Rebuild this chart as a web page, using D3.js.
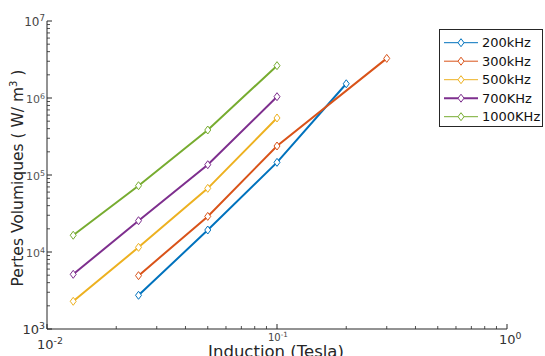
<!DOCTYPE html>
<html><head><meta charset="utf-8">
<script src="https://cdn.jsdelivr.net/npm/d3@7"></script>
<style>body{margin:0;background:#fff}svg{display:block}text{font-family:"DejaVu Sans",sans-serif}</style>
</head><body><svg id="c" width="545" height="356"></svg>
<script>
const seriesNames = ["200kHz","300kHz","500kHz","700KHz","1000KHz"];
const colors = ["#0072BD","#D95319","#EDB120","#7E2F8E","#77AC30"];
const x200 = [0.025,0.05,0.1,0.2];
const y200 = [2740,19300,146000,1530000];
const x300 = [0.025,0.05,0.1,0.3];
const y300 = [4930,29000,238000,3270000];
const x500 = [0.013,0.025,0.05,0.1];
const y500 = [2290,11500,67100,550000];
const x700 = [0.013,0.025,0.05,0.1];
const y700 = [5130,25500,136000,1040000];
const x1000 = [0.013,0.025,0.05,0.1];
const y1000 = [16500,72600,384000,2630000];
const xTickExp = [-2,-1,0];
const yTickExp = [3,4,5,6,7];

const seriesX = [x200,x300,x500,x700,x1000];
const seriesY = [y200,y300,y500,y700,y1000];

const svg = d3.select("#c");
const L=47,R=507,T=21,B=329;
const x = d3.scaleLog().domain([0.01,1]).range([L,R]);
const y = d3.scaleLog().domain([1e3,1e7]).range([B,T]);
const axisCol="#262626";

// minor ticks
const g = svg.append("g");
for(let e=-2;e<0;e++) for(let m=2;m<=9;m++){
  const v=m*Math.pow(10,e);
  g.append("line").attr("x1",x(v)).attr("x2",x(v)).attr("y1",B).attr("y2",B-3).attr("stroke",axisCol).attr("stroke-width",0.8);
}
for(let e=3;e<7;e++) for(let m=2;m<=9;m++){
  const v=m*Math.pow(10,e);
  g.append("line").attr("x1",L).attr("x2",L+3).attr("y1",y(v)).attr("y2",y(v)).attr("stroke",axisCol).attr("stroke-width",0.8);
}
xTickExp.forEach(e=>{const v=Math.pow(10,e);
  g.append("line").attr("x1",x(v)).attr("x2",x(v)).attr("y1",B).attr("y2",B-5).attr("stroke",axisCol);});
yTickExp.forEach(e=>{const v=Math.pow(10,e);
  g.append("line").attr("x1",L).attr("x2",L+5).attr("y1",y(v)).attr("y2",y(v)).attr("stroke",axisCol);});
g.append("line").attr("x1",L).attr("x2",R).attr("y1",B).attr("y2",B).attr("stroke",axisCol);
g.append("line").attr("x1",L).attr("x2",L).attr("y1",T).attr("y2",B).attr("stroke",axisCol);

// tick labels
function pow10(sel, e, xx, yy, fs, anchor, col){
  const t=sel.append("text").attr("x",xx).attr("y",yy).attr("font-size",fs).attr("fill",col).attr("text-anchor",anchor);
  t.append("tspan").text("10");
  t.append("tspan").attr("dy",-fs*0.4).attr("font-size",fs*0.72).text(e);
}
const yl = {3:[13,"#333"],4:[11,"#555"],5:[11,"#555"],6:[11,"#555"],7:[12,"#444"]};
yTickExp.forEach(e=>{pow10(svg,e,45,y(Math.pow(10,e))+5,yl[e][0],"end",yl[e][1]);});
pow10(svg,-2,37,349,13,"start","#333");
pow10(svg,-1,268,341,10,"start","#444");
pow10(svg,0,499,344,13,"start","#333");

// axis titles
svg.append("text").attr("x",(L+R)/2-1).attr("y",357).attr("text-anchor","middle").attr("font-size",16.5).attr("fill","#262626").text("Induction (Tesla)");
const yt=svg.append("text").attr("transform",`translate(23,${(T+B)/2+3}) rotate(-90)`).attr("text-anchor","middle").attr("font-size",15.5).attr("fill","#262626");
yt.append("tspan").text("Pertes Volumiques ( W/ m");
yt.append("tspan").attr("dy",-6).attr("font-size",10).text("3");
yt.append("tspan").attr("dy",6).text(" )");

// series
const line=d3.line().x(d=>x(d[0])).y(d=>y(d[1]));
const diamond = (cx,cy)=>`M${cx},${cy-4}L${cx+3},${cy}L${cx},${cy+4}L${cx-3},${cy}Z`;
seriesNames.forEach((n,i)=>{
  const pts=seriesX[i].map((v,j)=>[v,seriesY[i][j]]);
  svg.append("path").attr("d",line(pts)).attr("fill","none").attr("stroke",colors[i]).attr("stroke-width",2);
  pts.forEach(p=>svg.append("path").attr("d",diamond(x(p[0]),y(p[1]))).attr("fill","white").attr("stroke",colors[i]).attr("stroke-width",1));
});

// legend
const lg=svg.append("g");
lg.append("rect").attr("x",439.5).attr("y",29.5).attr("width",103).attr("height",97).attr("fill","white").attr("stroke",axisCol).attr("stroke-width",1);
seriesNames.forEach((n,i)=>{
  const yy=42.7+i*18.5;
  lg.append("line").attr("x1",444).attr("x2",478).attr("y1",yy).attr("y2",yy).attr("stroke",colors[i]).attr("stroke-width",i===3?2:1);
  lg.append("path").attr("d",diamond(461,yy)).attr("fill","white").attr("stroke",colors[i]);
  lg.append("text").attr("x",482).attr("y",yy+4.5).attr("font-size",13).attr("fill","#111").text(n);
});
</script></body></html>
